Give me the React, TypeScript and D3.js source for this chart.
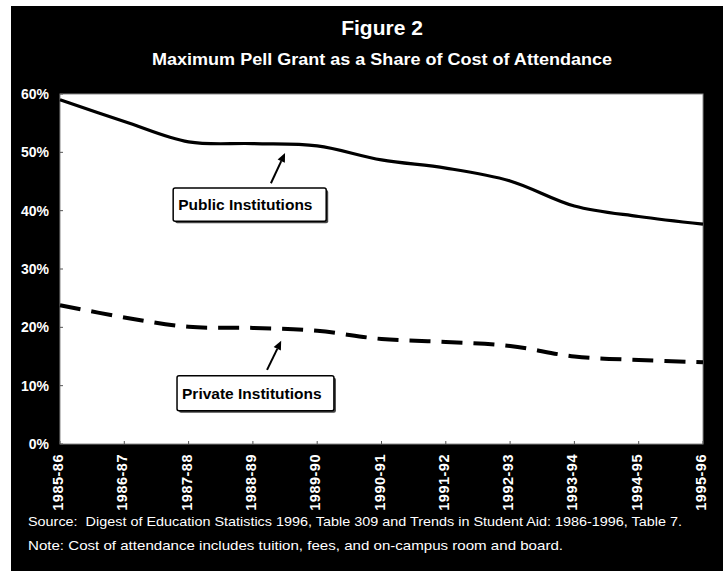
import React from 'react';
import * as d3 from 'd3';

// academic years on the x axis
const categories = [
  '1985-86', '1986-87', '1987-88', '1988-89', '1989-90', '1990-91',
  '1991-92', '1992-93', '1993-94', '1994-95', '1995-96',
];
// max Pell grant as % of cost of attendance
const publicShare = [59.0, 55.3, 51.8, 51.5, 51.1, 48.7, 47.3, 45.1, 40.8, 39.0, 37.7];
const privateShare = [23.8, 21.7, 20.1, 19.9, 19.4, 18.0, 17.5, 16.8, 15.0, 14.4, 14.0];
const yTicks = [0, 10, 20, 30, 40, 50, 60];

// callout boxes, in data space (category index, percent)
const callouts = [
  { text: 'Public Institutions', x0: 1.76, x1: 4.14, yTop: 43.9, yBot: 38.2, tail: [3.28, 44.7], tip: [3.5, 49.9] },
  { text: 'Private Institutions', x0: 1.82, x1: 4.26, yTop: 11.7, yBot: 5.7, tail: [3.22, 12.7], tip: [3.44, 17.7] },
];

const W = 723;
const H = 571;
const plot = { left: 60, right: 703, top: 94, bottom: 444 };
const font = "'Liberation Sans', Arial, Helvetica, sans-serif";

const App = () => {
  const x = d3.scaleLinear().domain([0, categories.length - 1]).range([plot.left, plot.right]);
  const y = d3.scaleLinear().domain([0, 60]).range([plot.bottom, plot.top]);

  const line = d3.line<number>()
    .x((_, i) => x(i))
    .y(d => y(d))
    .curve(d3.curveCatmullRom.alpha(0.5));

  return (
    <svg width={W} height={H} style={{ position: 'absolute', left: 0, top: 0, background: '#fff' }}>
      {/* black frame */}
      <rect x={11} y={6} width={W - 11} height={H - 6} fill="#000" />

      {/* titles */}
      <text x={382} y={35} textAnchor="middle" fill="#fff" fontFamily={font} fontWeight="bold" fontSize={21}>
        Figure 2
      </text>
      <text x={382} y={65} textAnchor="middle" fill="#fff" fontFamily={font} fontWeight="bold" fontSize={16}
        textLength={460} lengthAdjust="spacingAndGlyphs">
        Maximum Pell Grant as a Share of Cost of Attendance
      </text>

      {/* plot area */}
      <rect x={plot.left} y={plot.top} width={plot.right - plot.left} height={plot.bottom - plot.top}
        fill="#fff" stroke="#888" strokeWidth={1} />

      {/* y axis */}
      {yTicks.map(t => (
        <g key={t}>
          <line x1={plot.left} x2={plot.left + 3} y1={y(t)} y2={y(t)} stroke="#555" strokeWidth={1} />
          <text x={49} y={y(t) + 5} textAnchor="end" fill="#fff" fontFamily={font} fontWeight="bold" fontSize={14}>
            {t}%
          </text>
        </g>
      ))}

      {/* x axis */}
      {categories.map((c, i) => (
        <g key={c}>
          <line x1={x(i)} x2={x(i)} y1={plot.bottom} y2={plot.bottom - 3} stroke="#555" strokeWidth={1} />
          <text transform={`translate(${x(i) - 2},454) rotate(-90)`} dy="0.35em" textAnchor="end"
            fill="#fff" fontFamily={font} fontWeight="bold" fontSize={14.5} letterSpacing={0.5}>
            {c}
          </text>
        </g>
      ))}

      {/* series */}
      <path d={line(publicShare) || ''} fill="none" stroke="#000" strokeWidth={3.2} />
      <path d={line(privateShare) || ''} fill="none" stroke="#000" strokeWidth={4} strokeDasharray="21,11" />

      {/* callouts */}
      {callouts.map(c => {
        const bx = x(c.x0);
        const by = y(c.yTop);
        const bw = x(c.x1) - x(c.x0);
        const bh = y(c.yBot) - y(c.yTop);
        const tx = x(c.tail[0]);
        const ty = y(c.tail[1]);
        const px = x(c.tip[0]);
        const py = y(c.tip[1]);
        const ang = Math.atan2(py - ty, px - tx);
        const hl = 9;
        const hw = 4;
        const bx0 = px - hl * Math.cos(ang);
        const by0 = py - hl * Math.sin(ang);
        const head = [
          [px, py],
          [bx0 + hw * Math.sin(ang), by0 - hw * Math.cos(ang)],
          [bx0 - hw * Math.sin(ang), by0 + hw * Math.cos(ang)],
        ];
        return (
          <g key={c.text}>
            <line x1={tx} y1={ty} x2={bx0} y2={by0} stroke="#000" strokeWidth={2} />
            <polygon points={head.map(p => p.join(',')).join(' ')} fill="#000" />
            <rect x={bx + 2} y={by + 2} width={bw} height={bh} rx={2} fill="#444" />
            <rect x={bx} y={by} width={bw} height={bh} rx={2} fill="#fff" stroke="#000" strokeWidth={1.5} />
            <text x={bx + 5} y={by + bh / 2 + 5.5} fill="#000" fontFamily={font} fontWeight="bold" fontSize={15.5}>
              {c.text}
            </text>
          </g>
        );
      })}

      {/* footnotes */}
      <text x={28} y={526} fill="#fff" fontFamily={font} fontSize={13.5} textLength={654} lengthAdjust="spacingAndGlyphs"
        style={{ whiteSpace: 'pre' }}>
        {'Source:  Digest of Education Statistics 1996, Table 309 and Trends in Student Aid: 1986-1996, Table 7.'}
      </text>
      <text x={28} y={550} fill="#fff" fontFamily={font} fontSize={13.5} textLength={535} lengthAdjust="spacingAndGlyphs">
        Note: Cost of attendance includes tuition, fees, and on-campus room and board.
      </text>
    </svg>
  );
};

export default App;
